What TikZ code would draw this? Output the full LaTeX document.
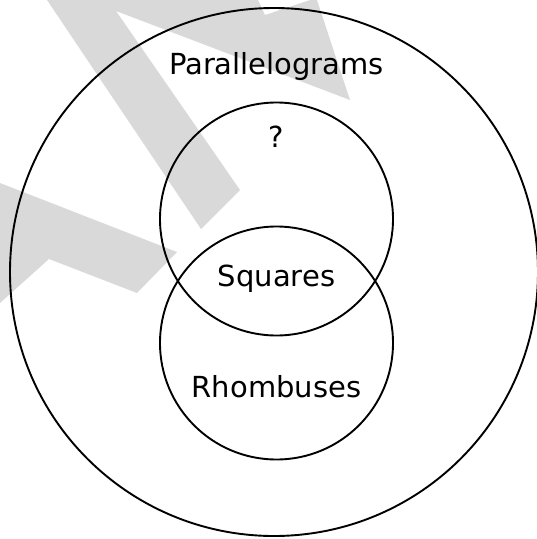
\documentclass[tikz,border=0pt]{standalone}
\usepackage{fontspec}
\setmainfont{DejaVu Sans}
\usepackage{tikz}
\usetikzlibrary{positioning}

\tikzset{
  lab/.style={anchor=base,inner sep=0pt,font=\fontsize{29}{35}\selectfont},
  ring/.style={draw=black,line width=1.9pt}
}

\begin{document}
\begin{tikzpicture}[x=1pt,y=-1pt]
     \useasboundingbox (0,0) rectangle (537,539);
     %水印
     \fill[black!15] (47,0) -- (201,229) -- (240,190) -- (116,11) -- (350,100)
     -- (317,0) -- (310,0) -- (265,15) -- (258,0) -- cycle;
     \fill[black!15] (0,183) -- (177,252) -- (137,293) -- (49,259) -- (0,303) -- cycle;

     %三个圆
     \draw[ring] (274,272) circle [radius=264];
     \draw[ring] (276.5,219) circle [radius=116.5];
     \draw[ring] (276.5,343) circle [radius=116.5];

     \node (para) at (276.5,74) [lab]{Parallelograms};
     \node (quest) at (276.5,147) [lab]{?};
     \node (squares) at (276.5,286) [lab]{Squares};
     \node (rhomb) at (276.5,397) [lab]{Rhombuses};
\end{tikzpicture}
\end{document}
